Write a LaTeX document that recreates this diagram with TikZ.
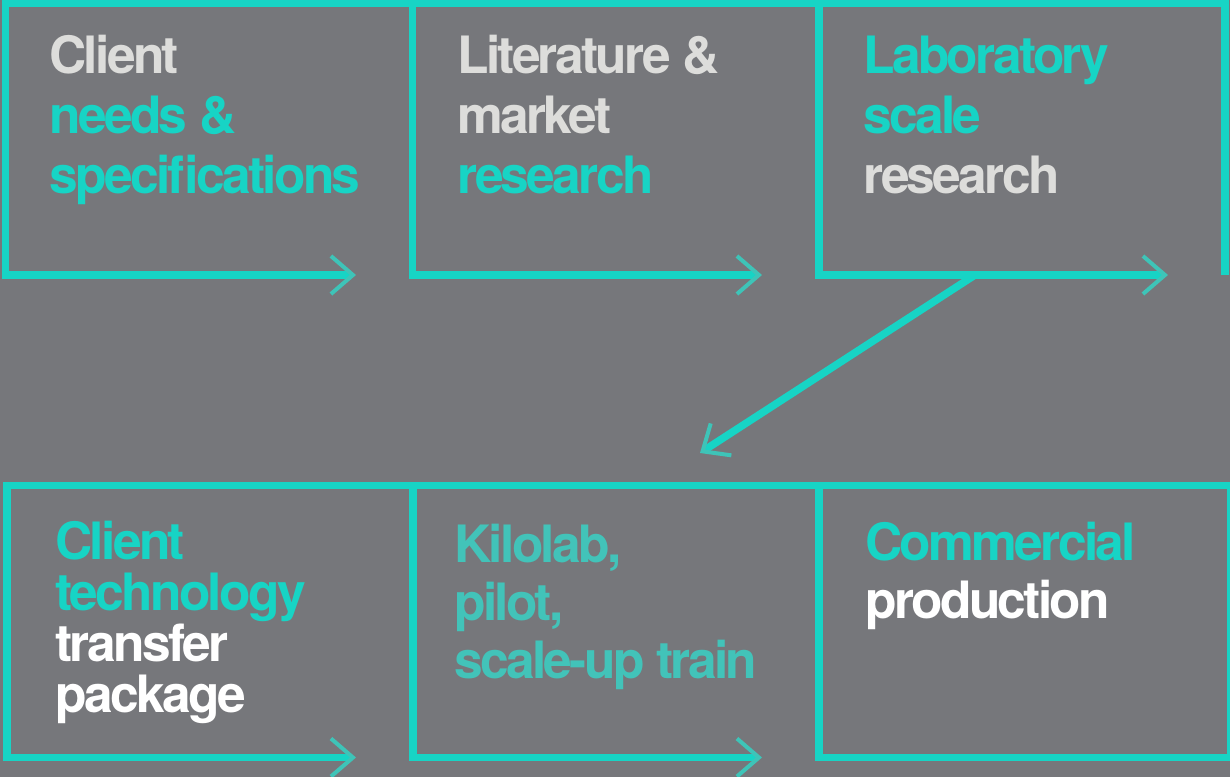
\documentclass[tikz,border=0pt]{standalone}
\usepackage{fontspec}
\setmainfont[LetterSpace=-5.2]{TeX Gyre Heros}
\usepackage{tikz}
\usetikzlibrary{arrows.meta}

\definecolor{bggray}{HTML}{76777B}
\definecolor{frameteal}{HTML}{17D4C5}
\definecolor{tipteal}{HTML}{3EC4B8}
\definecolor{softteal}{HTML}{42C3B9}
\definecolor{paletext}{HTML}{DDDDDB}

\tikzset{
  frame/.style={draw=frameteal, line width=0.15cm},
  flow/.style={frame, -{Straight Barb[length=0.44cm, width=0.76cm, line width=0.08cm, color=tipteal]}},
  boxtext/.style={anchor=base west, align=left, inner sep=0pt, font=\fontsize{29.3}{34.1}\selectfont\bfseries},
}

\begin{document}
\begin{tikzpicture}[x=0.02cm, y=-0.02cm]

          \fill[bggray] (0,0) rectangle (1230,777); %背景
          \useasboundingbox (0,0) rectangle (1230,777);

          \coordinate (A0) at (5.5,3.5); %上段 左上
          \coordinate (A1) at (5.5,275);
          \coordinate (A1e) at (356,275);
          \coordinate (B0) at (412.5,3.5);
          \coordinate (B1) at (412.5,275);
          \coordinate (B1e) at (762,275);
          \coordinate (C0) at (819,3.5);
          \coordinate (C1) at (819,275);
          \coordinate (C1e) at (1168,275);
          \coordinate (R0) at (1225,3.5); %上段 右端
          \coordinate (R1) at (1225,275);
          \coordinate (D0) at (975,275); %斜めの矢印
          \coordinate (D1) at (700,453);
          \coordinate (E0) at (7,485.5); %下段 左上
          \coordinate (E1) at (7,757.5);
          \coordinate (E1e) at (356,757.5);
          \coordinate (F0) at (413,485.5);
          \coordinate (F1) at (413,757.5);
          \coordinate (F1e) at (762,757.5);
          \coordinate (G0) at (819,485.5);
          \coordinate (G1) at (819,757.5);
          \coordinate (G2) at (1231,757.5); %下段 右端
          \coordinate (G3) at (1231,485.5);

          \draw[flow] (R1)--(R0)--(A0)--(A1)--(A1e); %上段の枠
          \draw[flow] (B0)--(B1)--(B1e);
          \draw[flow] (C0)--(C1)--(C1e);
          \draw[flow] (D0)--(D1); %上段から下段へ
          \draw[flow] (G0)--(G1)--(G2)--(G3)--(E0)--(E1)--(E1e); %下段の枠
          \draw[flow] (F0)--(F1)--(F1e);

          %テキスト(最終行のベースラインで配置)
          \node[boxtext] (needs) at (49,193) {\color{paletext}Client\\\color{frameteal}needs \&\\\color{frameteal}specifications};
          \node[boxtext] (market) at (457,193) {\color{paletext}Literature \&\\\color{paletext}market\\\color{frameteal}research};
          \node[boxtext] (labscale) at (863,193) {\color{frameteal}Laboratory\\\color{frameteal}scale\\\color{paletext}research};
          \node[boxtext, font=\fontsize{29.3}{29}\selectfont\bfseries] (transfer) at (55,712) {\color{frameteal}Client\\\color{frameteal}technology\\\color{white}transfer\\\color{white}package};
          \node[boxtext, font=\fontsize{29.3}{33}\selectfont\bfseries] (pilot) at (454,678) {\color{softteal}Kilolab,\\\color{softteal}pilot,\\\color{softteal}scale-up train};
          \node[boxtext, font=\fontsize{29.3}{33}\selectfont\bfseries] (commercial) at (865,618) {\color{frameteal}Commercial\\\color{white}production};

        \end{tikzpicture}
\end{document}
